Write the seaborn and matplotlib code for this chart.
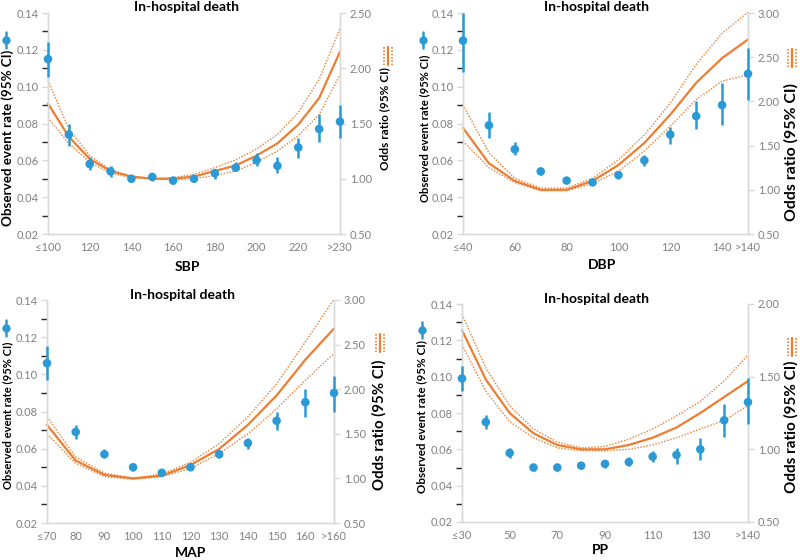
import numpy as np
import matplotlib
matplotlib.use("Agg")
import matplotlib.pyplot as plt
import seaborn as sns

# ---- data ----
# SBP
sbp_cats = ['≤100', '110', '120', '130', '140', '150', '160', '170', '180', '190',
            '200', '210', '220', '230', '>230']
sbp_show = [0, 2, 4, 6, 8, 10, 12, 14]
sbp_rate = [0.115, 0.074, 0.058, 0.054, 0.050, 0.051, 0.049, 0.050, 0.053, 0.056,
            0.060, 0.057, 0.067, 0.077, 0.081]
sbp_rate_lo = [0.105, 0.068, 0.055, 0.051, 0.048, 0.049, 0.047, 0.048, 0.050, 0.054,
               0.057, 0.053, 0.061, 0.070, 0.072]
sbp_rate_hi = [0.124, 0.080, 0.062, 0.057, 0.052, 0.053, 0.051, 0.052, 0.055, 0.059,
               0.064, 0.062, 0.072, 0.085, 0.090]
sbp_or = [1.68, 1.38, 1.18, 1.07, 1.02, 1.00, 1.00, 1.02, 1.07, 1.12,
          1.21, 1.32, 1.49, 1.73, 2.15]
sbp_or_hi = [1.89, 1.45, 1.21, 1.08, 1.02, 1.00, 1.01, 1.04, 1.10, 1.17,
             1.27, 1.40, 1.60, 1.90, 2.36]
sbp_or_lo = [1.55, 1.32, 1.15, 1.05, 1.01, 1.00, 0.99, 1.00, 1.03, 1.07,
             1.15, 1.25, 1.39, 1.58, 1.94]

# DBP
dbp_cats = ['≤40', '50', '60', '70', '80', '90', '100', '110', '120', '130', '140', '>140']
dbp_show = [0, 2, 4, 6, 8, 10, 11]
dbp_rate = [0.125, 0.079, 0.066, 0.054, 0.049, 0.048, 0.052, 0.060, 0.074, 0.084, 0.090, 0.107]
dbp_rate_lo = [0.108, 0.072, 0.063, 0.052, 0.048, 0.047, 0.050, 0.057, 0.069, 0.077, 0.079, 0.093]
dbp_rate_hi = [0.140, 0.086, 0.070, 0.056, 0.050, 0.049, 0.054, 0.063, 0.078, 0.092, 0.102, 0.121]
dbp_or = [1.70, 1.30, 1.10, 1.00, 1.00, 1.10, 1.28, 1.53, 1.85, 2.21, 2.49, 2.70]
dbp_or_hi = [1.96, 1.42, 1.13, 1.02, 1.02, 1.13, 1.34, 1.62, 1.98, 2.42, 2.77, 3.01]
dbp_or_lo = [1.55, 1.25, 1.08, 0.99, 0.99, 1.07, 1.21, 1.44, 1.72, 2.02, 2.23, 2.30]

# MAP
map_cats = ['≤70', '80', '90', '100', '110', '120', '130', '140', '150', '160', '>160']
map_show = list(range(11))
map_rate = [0.106, 0.069, 0.057, 0.050, 0.047, 0.050, 0.057, 0.063, 0.075, 0.085, 0.090]
map_rate_lo = [0.097, 0.065, 0.055, 0.048, 0.046, 0.049, 0.055, 0.060, 0.070, 0.077, 0.080]
map_rate_hi = [0.115, 0.073, 0.060, 0.052, 0.048, 0.052, 0.059, 0.066, 0.080, 0.092, 0.099]
map_or = [1.60, 1.20, 1.04, 1.00, 1.03, 1.15, 1.33, 1.60, 1.93, 2.33, 2.68]
map_or_hi = [1.69, 1.24, 1.06, 1.00, 1.05, 1.18, 1.39, 1.69, 2.06, 2.53, 3.01]
map_or_lo = [1.50, 1.17, 1.02, 0.99, 1.02, 1.11, 1.28, 1.50, 1.78, 2.10, 2.40]

# PP
pp_cats = ['≤30', '40', '50', '60', '70', '80', '90', '100', '110', '120', '130', '140', '>140']
pp_show = [0, 2, 4, 6, 8, 10, 12]
pp_rate = [0.099, 0.075, 0.058, 0.050, 0.050, 0.051, 0.052, 0.053, 0.056, 0.057, 0.060, 0.076, 0.086]
pp_rate_lo = [0.092, 0.071, 0.055, 0.048, 0.048, 0.049, 0.050, 0.051, 0.053, 0.052, 0.054, 0.067, 0.074]
pp_rate_hi = [0.106, 0.079, 0.061, 0.052, 0.052, 0.053, 0.054, 0.056, 0.059, 0.061, 0.066, 0.085, 0.099]
pp_or = [1.82, 1.48, 1.25, 1.11, 1.03, 1.00, 1.00, 1.03, 1.08, 1.15, 1.25, 1.36, 1.47]
pp_or_hi = [1.93, 1.56, 1.30, 1.14, 1.05, 1.01, 1.02, 1.07, 1.14, 1.23, 1.33, 1.47, 1.65]
pp_or_lo = [1.72, 1.40, 1.19, 1.08, 1.01, 0.99, 0.99, 1.00, 1.03, 1.08, 1.14, 1.20, 1.30]

# ---- style ----
sns.set_theme(style="white")
plt.rcParams['font.family'] = ['Lato', 'DejaVu Sans']

BLUE = '#2a9ad6'
ORANGE = '#ed7d31'
GRID = '#d9d9d9'
TICK = '#808080'

W, H = 800, 560
fig = plt.figure(figsize=(8, 5.6), dpi=100)

overlay = fig.add_axes([0, 0, 1, 1], zorder=10)
overlay.set_xlim(0, W)
overlay.set_ylim(H, 0)
overlay.axis('off')


def px_axes(left, top, right, bottom):
    return fig.add_axes([left / W, 1 - bottom / H, (right - left) / W, (bottom - top) / H])


def ftext(xy, s, size, rot=0):
    fig.text(xy[0] / W, 1 - xy[1] / H, s, rotation=rot, ha='center', va='center',
             fontsize=size, fontweight='bold', color='black')


def draw_panel(box, cats, show, rate, rate_lo, rate_hi, orr, or_lo, or_hi,
               rlim, rticks, xlabel, title_xy, xlabel_xy, lab_l, lab_r, icon_b, icon_o):
    ax = px_axes(*box)
    n = len(cats)
    pos = np.arange(n)

    ax2 = ax.twinx()
    # odds ratio curve and its CI
    sns.lineplot(x=pos, y=orr, ax=ax2, color=ORANGE, lw=1.6, clip_on=False)
    for band in (or_lo, or_hi):
        sns.lineplot(x=pos, y=band, ax=ax2, color=ORANGE, lw=1.0,
                     linestyle=(0, (1, 1.2)), clip_on=False)
    ax2.set_ylim(*rlim)
    ax2.set_yticks(rticks)
    ax2.set_yticklabels(['%.2f' % t for t in rticks])

    # observed rates with CI
    ax.set_zorder(ax2.get_zorder() + 1)
    ax.patch.set_visible(False)
    ax.vlines(pos, rate_lo, rate_hi, color=BLUE, lw=1.8, clip_on=False, zorder=3)
    sns.scatterplot(x=pos, y=rate, ax=ax, color=BLUE, s=38, edgecolor='none',
                    clip_on=False, zorder=4)
    ax.set_xlim(0, n - 1)
    ax.set_ylim(0.02, 0.14)
    lt = np.arange(0.02, 0.141, 0.02)
    ax.set_yticks(lt)
    ax.set_yticklabels(['%.2f' % t for t in lt])
    ax.set_yticks(np.arange(0.03, 0.14, 0.02), minor=True)
    ax.set_xticks(pos)
    ax.set_xticklabels([c if i in show else '' for i, c in enumerate(cats)])
    ax2.set_xlim(0, n - 1)

    for a in (ax, ax2):
        for s in a.spines.values():
            s.set_color(GRID)
            s.set_linewidth(1.0)
        a.spines['top'].set_visible(False)
        a.tick_params(colors=GRID, labelcolor=TICK, labelsize=8, width=1)
        a.set_xlabel('')
        a.set_ylabel('')
    ax.tick_params(axis='x', direction='in', length=3, pad=6)
    ax.tick_params(axis='y', which='both', direction='out', length=4, pad=3)
    ax2.tick_params(axis='y', direction='out', length=4, pad=3)

    # texts
    ftext(title_xy, 'In-hospital death', 10)
    ftext(xlabel_xy, xlabel, 10)
    ftext(lab_l[:2], 'Observed event rate (95% CI)', lab_l[2], rot=90)
    ftext(lab_r[:2], 'Odds ratio (95% CI)', lab_r[2], rot=90)

    # legend glyphs
    bx, by = icon_b
    overlay.plot([bx, bx], [by - 8, by + 8], color=BLUE, lw=1.8)
    overlay.plot([bx], [by], 'o', color=BLUE, ms=6, mec='none')
    ox, oy = icon_o
    overlay.plot([ox, ox], [oy - 9, oy + 9], color=ORANGE, lw=1.6)
    for dx in (-4, 4):
        overlay.plot([ox + dx, ox + dx], [oy - 9, oy + 9], color=ORANGE, lw=1.2,
                     linestyle=(0, (1, 1)))


draw_panel((48, 13, 340, 234), sbp_cats, sbp_show, sbp_rate, sbp_rate_lo, sbp_rate_hi,
           sbp_or, sbp_or_lo, sbp_or_hi, (0.5, 2.5), [0.5, 1.0, 1.5, 2.0, 2.5], 'SBP',
           (187, 7), (187, 267), (8, 138, 9.6), (385, 119, 8.5), (6, 40), (388, 56))
draw_panel((463, 13, 748, 234), dbp_cats, dbp_show, dbp_rate, dbp_rate_lo, dbp_rate_hi,
           dbp_or, dbp_or_lo, dbp_or_hi, (0.5, 3.0), [0.5, 1.0, 1.5, 2.0, 2.5, 3.0], 'DBP',
           (597, 7), (602, 265), (425, 128, 8.1), (791, 152, 11.4), (423, 40), (792, 58))
draw_panel((47, 300, 334, 523), map_cats, map_show, map_rate, map_rate_lo, map_rate_hi,
           map_or, map_or_lo, map_or_hi, (0.5, 3.0), [0.5, 1.0, 1.5, 2.0, 2.5, 3.0], 'MAP',
           (183, 295), (190, 553), (8, 415, 8.1), (379, 425, 10.8), (6, 328), (380, 343))
draw_panel((462, 304, 748, 522), pp_cats, pp_show, pp_rate, pp_rate_lo, pp_rate_hi,
           pp_or, pp_or_lo, pp_or_hi, (0.5, 2.0), [0.5, 1.0, 1.5, 2.0], 'PP',
           (597, 299), (600, 550), (422, 417, 8.4), (791, 427, 11.0), (422, 330), (792, 347))

fig.savefig('out.png', dpi=100)
